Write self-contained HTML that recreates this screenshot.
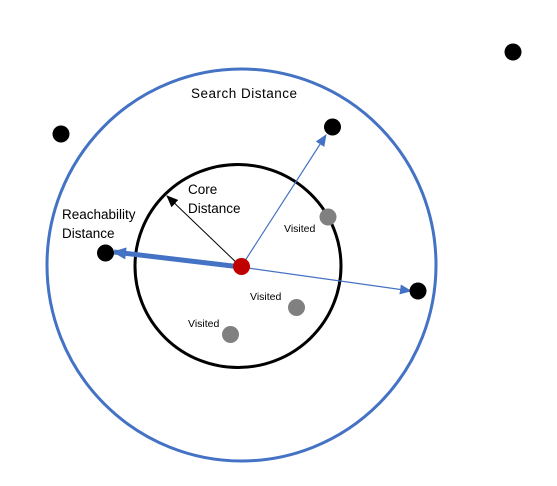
<!DOCTYPE html>
<html><head><style>html,body{margin:0;padding:0;background:#fff;}svg{display:block}</style></head>
<body>
<svg width="557" height="486" viewBox="0 0 557 486" xmlns="http://www.w3.org/2000/svg" font-family="Liberation Sans, sans-serif">
<defs>
<marker id="ab" markerWidth="12" markerHeight="10" refX="11" refY="5" orient="auto" markerUnits="userSpaceOnUse" viewBox="0 0 12 10"><path d="M0,0 L12,5 L0,10 z" fill="#4472c4"/></marker>
<marker id="ab2" markerWidth="14" markerHeight="12" refX="12" refY="6" orient="auto" markerUnits="userSpaceOnUse" viewBox="0 0 14 12"><path d="M0,0 L14,6 L0,12 z" fill="#4472c4"/></marker>
<marker id="ak" markerWidth="12" markerHeight="10" refX="11" refY="5" orient="auto" markerUnits="userSpaceOnUse" viewBox="0 0 12 10"><path d="M0,0 L12,5 L0,10 z" fill="#000"/></marker>
</defs>
<ellipse cx="241.5" cy="265" rx="194.5" ry="196" fill="none" stroke="#4472c4" stroke-width="3"/>
<ellipse cx="238" cy="266" rx="103" ry="101.5" fill="none" stroke="#000" stroke-width="3"/>
<line x1="241" y1="267" x2="167" y2="196" stroke="#000" stroke-width="1" marker-end="url(#ak)"/>
<line x1="241" y1="267" x2="326" y2="135" stroke="#4472c4" stroke-width="1.2" marker-end="url(#ab)"/>
<line x1="241" y1="267" x2="411" y2="291" stroke="#4472c4" stroke-width="1.2" marker-end="url(#ab)"/>
<line x1="241" y1="267" x2="114" y2="252" stroke="#4472c4" stroke-width="5" marker-end="url(#ab2)"/>
<circle cx="241.5" cy="266.5" r="8.5" fill="#c00000"/>
<g fill="#000">
<circle cx="513" cy="52" r="8.5"/><circle cx="61" cy="134" r="8.5"/><circle cx="332.5" cy="127" r="8.5"/><circle cx="105.5" cy="253" r="8.5"/><circle cx="418" cy="291" r="8.5"/>
</g>
<g fill="#808080">
<circle cx="328" cy="217" r="8.5"/><circle cx="296.5" cy="307.5" r="8.5"/><circle cx="230.5" cy="334.5" r="8.5"/>
</g>
<g font-size="13.5" fill="#000">
<text x="191" y="98" textLength="106">Search Distance</text>
<text x="188" y="194">Core</text>
<text x="188" y="213">Distance</text>
<text x="62" y="219">Reachability</text>
<text x="62" y="238">Distance</text>
</g>
<g font-size="10.5" fill="#000">
<text x="284" y="232">Visited</text>
<text x="250" y="300">Visited</text>
<text x="188" y="327">Visited</text>
</g>
</svg>
</body></html>
